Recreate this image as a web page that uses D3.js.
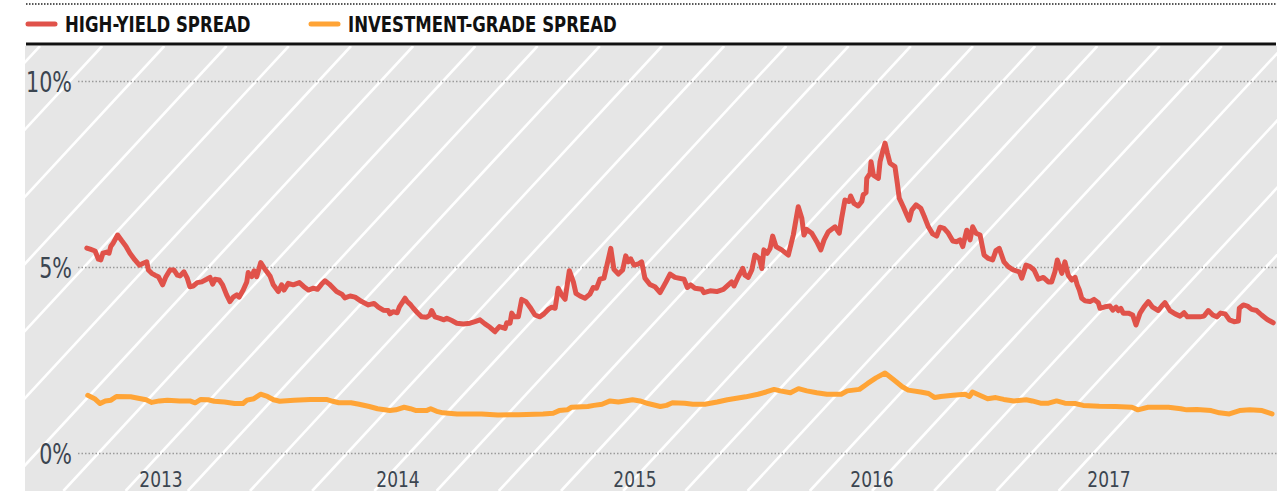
<!DOCTYPE html>
<html>
<head>
<meta charset="utf-8">
<script src="https://cdn.jsdelivr.net/npm/d3@7"></script>
<style>
  body { margin: 0; background: #fff; }
  svg { display: block; }
  .legend-text { font-family: "Liberation Sans Narrow", "DejaVu Sans Condensed", sans-serif; font-weight: bold; font-size: 21px; fill: #111; }
  .y-axis text { font-family: "Liberation Sans Narrow", "DejaVu Sans Condensed", sans-serif; font-size: 28px; fill: #3b4550; }
  .x-axis text { font-family: "Liberation Sans Narrow", "DejaVu Sans Condensed", sans-serif; font-size: 21px; fill: #3b4550; }
</style>
</head>
<body>
<div class="chart"></div>
<script>

// data (decimal year, spread in %)
var seriesNames = ["HIGH-YIELD SPREAD", "INVESTMENT-GRADE SPREAD"];
var seriesColors = ["#e0524a", "#ffa436"];

var hyYears = [2012.689, 2012.703, 2012.724, 2012.738, 2012.748, 2012.757, 2012.773, 2012.783, 2012.790, 2012.800,
  2012.819, 2012.836, 2012.854, 2012.871, 2012.892, 2012.911, 2012.927, 2012.942, 2012.949, 2012.963,
  2012.977, 2012.991, 2013.009, 2013.023, 2013.040, 2013.057, 2013.071, 2013.082, 2013.099, 2013.113,
  2013.124, 2013.138, 2013.155, 2013.174, 2013.195, 2013.209, 2013.220, 2013.230, 2013.248, 2013.262,
  2013.279, 2013.293, 2013.307, 2013.322, 2013.332, 2013.349, 2013.364, 2013.370, 2013.385, 2013.395,
  2013.406, 2013.423, 2013.441, 2013.462, 2013.476, 2013.497, 2013.511, 2013.521, 2013.539, 2013.560,
  2013.586, 2013.605, 2013.624, 2013.645, 2013.662, 2013.680, 2013.694, 2013.712, 2013.743, 2013.765,
  2013.778, 2013.800, 2013.821, 2013.849, 2013.877, 2013.901, 2013.919, 2013.940, 2013.961, 2013.968,
  2013.982, 2013.999, 2014.008, 2014.032, 2014.041, 2014.056, 2014.067, 2014.084, 2014.102, 2014.123,
  2014.137, 2014.144, 2014.158, 2014.179, 2014.196, 2014.208, 2014.229, 2014.250, 2014.278, 2014.306,
  2014.327, 2014.348, 2014.369, 2014.390, 2014.411, 2014.430, 2014.440, 2014.454, 2014.461, 2014.475,
  2014.482, 2014.493, 2014.510, 2014.524, 2014.542, 2014.559, 2014.580, 2014.601, 2014.618, 2014.636,
  2014.651, 2014.665, 2014.678, 2014.693, 2014.707, 2014.725, 2014.742, 2014.753, 2014.770, 2014.791,
  2014.812, 2014.826, 2014.840, 2014.854, 2014.871, 2014.883, 2014.900, 2014.913, 2014.932, 2014.950,
  2014.963, 2014.974, 2014.984, 2014.998, 2015.016, 2015.030, 2015.044, 2015.065, 2015.086, 2015.108,
  2015.133, 2015.150, 2015.171, 2015.209, 2015.223, 2015.237, 2015.255, 2015.284, 2015.293, 2015.319,
  2015.347, 2015.375, 2015.396, 2015.410, 2015.420, 2015.438, 2015.457, 2015.466, 2015.480, 2015.495,
  2015.508, 2015.527, 2015.537, 2015.546, 2015.560, 2015.572, 2015.583, 2015.597, 2015.621, 2015.649,
  2015.670, 2015.691, 2015.706, 2015.715, 2015.727, 2015.748, 2015.769, 2015.786, 2015.800, 2015.818,
  2015.846, 2015.864, 2015.874, 2015.888, 2015.906, 2015.912, 2015.926, 2015.944, 2015.959, 2015.965,
  2015.977, 2015.980, 2015.994, 2015.998, 2016.008, 2016.029, 2016.036, 2016.047, 2016.057, 2016.067,
  2016.078, 2016.099, 2016.109, 2016.117, 2016.134, 2016.149, 2016.159, 2016.170, 2016.188, 2016.208,
  2016.222, 2016.240, 2016.258, 2016.275, 2016.289, 2016.306, 2016.324, 2016.343, 2016.359, 2016.373,
  2016.385, 2016.402, 2016.416, 2016.427, 2016.441, 2016.458, 2016.475, 2016.493, 2016.511, 2016.525,
  2016.539, 2016.559, 2016.577, 2016.598, 2016.624, 2016.634, 2016.652, 2016.669, 2016.686, 2016.704,
  2016.725, 2016.746, 2016.760, 2016.774, 2016.784, 2016.803, 2016.816, 2016.830, 2016.845, 2016.859,
  2016.868, 2016.877, 2016.887, 2016.901, 2016.922, 2016.939, 2016.957, 2016.964, 2016.985, 2017.006,
  2017.018, 2017.032, 2017.041, 2017.052, 2017.062, 2017.084, 2017.102, 2017.116, 2017.133, 2017.150,
  2017.168, 2017.186, 2017.210, 2017.225, 2017.238, 2017.259, 2017.281, 2017.302, 2017.319, 2017.333,
  2017.358, 2017.386, 2017.403, 2017.421, 2017.440, 2017.457, 2017.473, 2017.492, 2017.510, 2017.530,
  2017.548, 2017.552, 2017.569, 2017.586, 2017.604, 2017.625, 2017.646, 2017.670, 2017.695];

var hySpread = [5.51, 5.48, 5.43, 5.21, 5.19, 5.37, 5.40, 5.37, 5.55, 5.64,
  5.86, 5.71, 5.56, 5.37, 5.19, 5.05, 5.10, 5.14, 4.92, 4.83,
  4.78, 4.74, 4.52, 4.74, 4.92, 4.92, 4.78, 4.76, 4.87, 4.70,
  4.47, 4.49, 4.58, 4.60, 4.67, 4.72, 4.54, 4.67, 4.65, 4.52,
  4.25, 4.07, 4.19, 4.25, 4.19, 4.38, 4.60, 4.85, 4.74, 4.90,
  4.74, 5.12, 4.94, 4.76, 4.52, 4.34, 4.52, 4.38, 4.56, 4.52,
  4.58, 4.47, 4.38, 4.43, 4.40, 4.54, 4.63, 4.54, 4.34, 4.27,
  4.17, 4.22, 4.19, 4.07, 3.98, 4.02, 3.92, 3.84, 3.83, 3.74,
  3.80, 3.77, 3.93, 4.16, 4.07, 3.98, 3.89, 3.77, 3.66, 3.65,
  3.71, 3.83, 3.66, 3.62, 3.58, 3.62, 3.56, 3.49, 3.47, 3.49,
  3.53, 3.58, 3.47, 3.38, 3.26, 3.40, 3.38, 3.35, 3.50, 3.49,
  3.76, 3.66, 3.66, 4.13, 4.07, 3.92, 3.71, 3.66, 3.74, 3.86,
  3.92, 3.89, 4.43, 4.25, 4.13, 4.90, 4.60, 4.29, 4.22, 4.16,
  4.27, 4.45, 4.43, 4.67, 4.70, 5.03, 5.50, 4.94, 4.81, 4.92,
  5.30, 5.14, 5.22, 5.05, 5.08, 5.14, 4.70, 4.53, 4.47, 4.31,
  4.60, 4.81, 4.72, 4.67, 4.45, 4.52, 4.43, 4.40, 4.31, 4.36,
  4.34, 4.40, 4.52, 4.60, 4.49, 4.74, 4.96, 4.78, 4.72, 4.92,
  5.32, 5.23, 4.96, 5.46, 5.37, 5.50, 5.83, 5.55, 5.46, 5.32,
  5.86, 6.62, 6.31, 5.86, 6.01, 5.91, 5.68, 5.46, 5.73, 5.95,
  6.08, 5.91, 6.31, 6.80, 6.76, 6.91, 6.71, 6.64, 6.76, 6.94,
  7.00, 7.38, 7.52, 7.83, 7.47, 7.38, 7.83, 8.10, 8.33, 8.06,
  7.79, 7.70, 7.25, 6.85, 6.62, 6.40, 6.26, 6.53, 6.67, 6.58,
  6.37, 6.08, 5.89, 5.83, 6.07, 6.04, 5.91, 5.70, 5.68, 5.73,
  5.55, 5.99, 5.73, 6.08, 5.91, 5.86, 5.32, 5.23, 5.19, 5.44,
  5.50, 5.14, 5.01, 4.92, 4.87, 4.70, 5.05, 5.01, 4.92, 4.67,
  4.72, 4.60, 4.60, 4.87, 5.19, 4.83, 5.14, 4.78, 4.65, 4.72,
  4.52, 4.38, 4.16, 4.09, 4.07, 4.13, 4.04, 3.89, 3.93, 3.95,
  3.84, 3.92, 3.83, 3.89, 3.76, 3.76, 3.71, 3.44, 3.76, 3.93,
  4.07, 3.92, 3.83, 3.95, 4.04, 3.83, 3.74, 3.68, 3.77, 3.66,
  3.66, 3.66, 3.68, 3.83, 3.71, 3.66, 3.76, 3.74, 3.58, 3.53,
  3.55, 3.89, 3.98, 3.95, 3.86, 3.83, 3.71, 3.59, 3.50];

var igYears = [2012.693, 2012.722, 2012.745, 2012.767, 2012.791, 2012.814, 2012.874, 2012.917, 2012.939, 2012.963,
  2012.995, 2013.029, 2013.081, 2013.124, 2013.146, 2013.170, 2013.201, 2013.227, 2013.270, 2013.313,
  2013.348, 2013.365, 2013.394, 2013.422, 2013.451, 2013.477, 2013.503, 2013.563, 2013.632, 2013.700,
  2013.727, 2013.752, 2013.804, 2013.838, 2013.881, 2013.916, 2013.968, 2013.993, 2014.028, 2014.054,
  2014.079, 2014.122, 2014.140, 2014.165, 2014.192, 2014.251, 2014.355, 2014.424, 2014.510, 2014.614,
  2014.657, 2014.682, 2014.716, 2014.734, 2014.803, 2014.829, 2014.863, 2014.897, 2014.932, 2014.992,
  2015.023, 2015.057, 2015.109, 2015.135, 2015.160, 2015.212, 2015.246, 2015.297, 2015.349, 2015.392,
  2015.469, 2015.521, 2015.555, 2015.589, 2015.615, 2015.658, 2015.692, 2015.727, 2015.769, 2015.812,
  2015.872, 2015.898, 2015.949, 2015.984, 2016.019, 2016.057, 2016.095, 2016.130, 2016.155, 2016.207,
  2016.241, 2016.267, 2016.292, 2016.344, 2016.395, 2016.413, 2016.426, 2016.447, 2016.490, 2016.524,
  2016.558, 2016.601, 2016.653, 2016.678, 2016.713, 2016.747, 2016.781, 2016.816, 2016.859, 2016.893,
  2016.961, 2017.030, 2017.099, 2017.124, 2017.167, 2017.253, 2017.305, 2017.330, 2017.373, 2017.433,
  2017.468, 2017.510, 2017.553, 2017.596, 2017.648, 2017.690];

var igSpread = [1.55, 1.46, 1.33, 1.40, 1.42, 1.52, 1.51, 1.46, 1.43, 1.36,
  1.40, 1.42, 1.40, 1.40, 1.35, 1.44, 1.43, 1.39, 1.37, 1.33,
  1.33, 1.42, 1.46, 1.58, 1.52, 1.43, 1.39, 1.42, 1.44, 1.44,
  1.39, 1.35, 1.35, 1.31, 1.25, 1.19, 1.14, 1.16, 1.23, 1.19,
  1.14, 1.14, 1.19, 1.12, 1.08, 1.05, 1.05, 1.02, 1.03, 1.05,
  1.07, 1.14, 1.16, 1.23, 1.25, 1.28, 1.31, 1.40, 1.37, 1.43,
  1.40, 1.33, 1.25, 1.28, 1.35, 1.34, 1.31, 1.31, 1.37, 1.43,
  1.51, 1.58, 1.64, 1.71, 1.67, 1.62, 1.73, 1.67, 1.62, 1.58,
  1.58, 1.67, 1.71, 1.87, 2.02, 2.15, 1.96, 1.78, 1.69, 1.64,
  1.60, 1.49, 1.52, 1.55, 1.58, 1.52, 1.64, 1.58, 1.46, 1.49,
  1.44, 1.40, 1.43, 1.40, 1.34, 1.34, 1.40, 1.34, 1.33, 1.28,
  1.26, 1.25, 1.23, 1.16, 1.23, 1.23, 1.19, 1.16, 1.17, 1.14,
  1.08, 1.05, 1.14, 1.16, 1.14, 1.05];

var yTicks = [0, 5, 10];
var xTicks = [2013, 2014, 2015, 2016, 2017];


var svgWidth = 1277;
var svgHeight = 491;

var bgLeft = 25;
var bgTop = 46;
var plotLeft = 78;

var svg = d3
  .select(".chart")
  .append("svg")
  .attr("width", svgWidth)
  .attr("height", svgHeight);

var hyData = hyYears.map(function(yr, i) { return [yr, hySpread[i]]; });
var igData = igYears.map(function(yr, i) { return [yr, igSpread[i]]; });

var xScale = d3.scaleLinear().domain([2013, 2017]).range([160.5, 1108.5]);
var yScale = d3.scaleLinear().domain([0, 10]).range([453, 81]);

// the installed fonts are wider than the original, squeeze them a little
function condense(selection, factor) {
  selection.each(function() {
    var w = this.getComputedTextLength();
    d3.select(this)
      .attr("textLength", w * factor)
      .attr("lengthAdjust", "spacingAndGlyphs");
  });
}


// dotted rule on top
svg.append("line")
  .attr("x1", 26).attr("x2", svgWidth)
  .attr("y1", 4).attr("y2", 4)
  .attr("stroke", "#222")
  .attr("stroke-width", 1.5)
  .attr("stroke-dasharray", "1.5,1.5");


// legend
var legend = svg.append("g");
var legendX = [26, 309];

seriesNames.forEach(function(name, i) {
  legend.append("line")
    .attr("x1", legendX[i] + 2).attr("x2", legendX[i] + 29)
    .attr("y1", 24).attr("y2", 24)
    .attr("stroke", seriesColors[i])
    .attr("stroke-width", 5)
    .attr("stroke-linecap", "round");

  legend.append("text")
    .attr("class", "legend-text")
    .attr("x", legendX[i] + 39)
    .attr("y", 32)
    .text(name);
});

legend.selectAll("text").call(condense, 0.875);


// black rule and grey plot area
svg.append("line")
  .attr("x1", 26).attr("x2", svgWidth - 1)
  .attr("y1", 44).attr("y2", 44)
  .attr("stroke", "#111")
  .attr("stroke-width", 3);

svg.append("rect")
  .attr("x", bgLeft).attr("y", bgTop)
  .attr("width", svgWidth - bgLeft)
  .attr("height", svgHeight - bgTop)
  .attr("fill", "#e6e6e6");

svg.append("clipPath")
  .attr("id", "bg-clip")
  .append("rect")
  .attr("x", bgLeft).attr("y", bgTop)
  .attr("width", svgWidth - bgLeft)
  .attr("height", svgHeight - bgTop);

// diagonal white hatching
var stripeGap = 62.2;
var stripeSlope = 1.08;
var stripeSpan = (svgHeight - bgTop) / stripeSlope;
var stripes = d3.range(-10, 24).map(function(k) { return 40 + k * stripeGap; });

svg.append("g")
  .attr("clip-path", "url(#bg-clip)")
  .selectAll("line")
  .data(stripes)
  .enter()
  .append("line")
  .attr("x1", function(d) { return d; })
  .attr("y1", bgTop)
  .attr("x2", function(d) { return d - stripeSpan; })
  .attr("y2", svgHeight)
  .attr("stroke", "#fff")
  .attr("stroke-width", 2.6);


// y axis with dotted grid
var leftAxis = d3.axisLeft(yScale)
  .tickValues(yTicks)
  .tickFormat(function(d) { return d + "%"; })
  .tickSize(-(svgWidth - plotLeft))
  .tickPadding(6);

var yAxis = svg.append("g")
  .attr("class", "y-axis")
  .attr("transform", "translate(" + plotLeft + ",0)")
  .call(leftAxis);

yAxis.select(".domain").remove();
yAxis.selectAll(".tick line")
  .attr("stroke", "#9a9a9a")
  .attr("stroke-width", 1.3)
  .attr("stroke-dasharray", "1.5,2");
yAxis.selectAll(".tick text")
  .attr("dy", "0.36em")
  .call(condense, 0.82);


// x axis, year labels only
var bottomAxis = d3.axisBottom(xScale)
  .tickValues(xTicks)
  .tickFormat(d3.format("d"))
  .tickSize(0)
  .tickPadding(3);

var xAxis = svg.append("g")
  .attr("class", "x-axis")
  .attr("transform", "translate(0,469)")
  .call(bottomAxis);

xAxis.select(".domain").remove();
xAxis.selectAll(".tick text").call(condense, 0.9);


// the two lines
var line = d3.line()
  .x(function(d) { return xScale(d[0]); })
  .y(function(d) { return yScale(d[1]); });

[igData, hyData].forEach(function(data, i) {
  svg.append("path")
    .datum(data)
    .attr("fill", "none")
    .attr("stroke", seriesColors[1 - i])
    .attr("stroke-width", 5)
    .attr("stroke-linejoin", "round")
    .attr("stroke-linecap", "round")
    .attr("d", line);
});

</script>
</body>
</html>
